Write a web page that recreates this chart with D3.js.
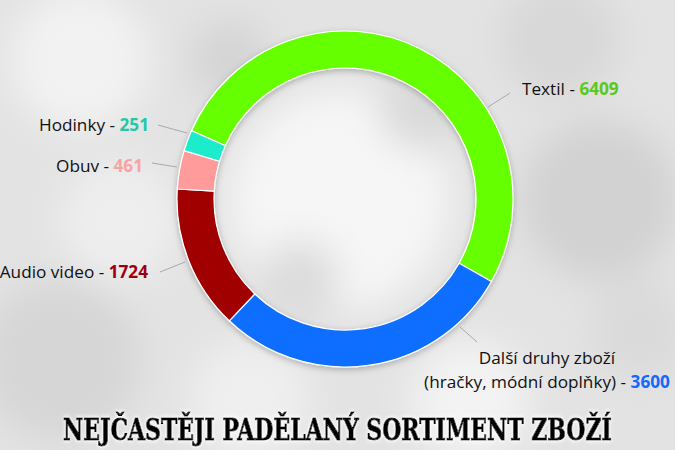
<!DOCTYPE html>
<html>
<head>
<meta charset="utf-8">
<script src="https://cdn.jsdelivr.net/npm/d3@7"></script>
<style>
  body { margin: 0; background: #e4e4e4; }
  svg { display: block; }
  .lbl { font-family: "Open Sans", sans-serif; font-size: 17.2px; fill: #111; }
  .num { font-weight: 700; }
</style>
</head>
<body>
<svg id="chart" width="675" height="450"></svg>
<script>
// data
var categories = ["Textil", "Další druhy zboží", "Audio video", "Obuv", "Hodinky"];
var values = [6409, 3600, 1724, 461, 251];
var sliceColors = ["#66ff00", "#0a6eff", "#a10000", "#ff9b9b", "#1beccb"];
var numColors = ["#58c91e", "#1469ff", "#9c0010", "#f7a3a3", "#22c9a6"];
var title = "NEJČASTĚJI PADĚLANÝ SORTIMENT ZBOŽÍ";

// where each label sits, and its leader line
var labelPos = [
  { x: 522, y: 95, anchor: "start", lx: 510, ly: 93, ix: 488, iy: 107 },
  { x: 547, y: 364, anchor: "middle", lx: 477, ly: 342, ix: 460, iy: 327 },
  { x: 148, y: 278, anchor: "end", lx: 160, ly: 272, ix: 185, iy: 262 },
  { x: 143, y: 172, anchor: "end", lx: 152, ly: 163, ix: 177, iy: 167 },
  { x: 149, y: 131, anchor: "end", lx: 158, ly: 125, ix: 187, iy: 133 }
];

var width = 675, height = 450;
var cx = 345, cy = 199, outerR = 168, innerR = 131;

var svg = d3.select("#chart");
var defs = svg.append("defs");

defs.append("filter").attr("id", "blur")
    .attr("x", "-50%").attr("y", "-50%").attr("width", "200%").attr("height", "200%")
  .append("feGaussianBlur").attr("stdDeviation", 18);

var sh = defs.append("filter").attr("id", "shadow")
    .attr("x", "-20%").attr("y", "-20%").attr("width", "140%").attr("height", "140%");
sh.append("feDropShadow").attr("dx", 0).attr("dy", 2).attr("stdDeviation", 3)
    .attr("flood-color", "#000").attr("flood-opacity", 0.25);

var glow = defs.append("filter").attr("id", "glow")
    .attr("x", "-10%").attr("y", "-50%").attr("width", "120%").attr("height", "200%");
glow.append("feGaussianBlur").attr("in", "SourceAlpha").attr("stdDeviation", 2).attr("result", "b");
glow.append("feFlood").attr("flood-color", "#fff");
glow.append("feComposite").attr("in2", "b").attr("operator", "in").attr("result", "w");
var gm = glow.append("feMerge");
gm.append("feMergeNode").attr("in", "w");
gm.append("feMergeNode").attr("in", "w");
gm.append("feMergeNode").attr("in", "SourceGraphic");

// blurry background
var bg = svg.append("g");
bg.append("rect").attr("width", width).attr("height", height).attr("fill", "#e3e3e3");
var blobs = bg.append("g").attr("filter", "url(#blur)");
[[80, 60, 70, "#f2f2f2"], [600, 200, 80, "#d2d2d2"], [560, 40, 60, "#d8d8d8"],
 [60, 360, 80, "#d6d6d6"], [340, 200, 110, "#f6f6f6"], [250, 400, 60, "#efefef"],
 [470, 400, 60, "#f3f3f3"], [640, 330, 50, "#dadada"], [120, 220, 60, "#eeeeee"],
 [230, 60, 40, "#d4d4d4"], [420, 110, 40, "#d9d9d9"], [300, 280, 40, "#dcdcdc"]]
  .forEach(function (b) {
    blobs.append("circle").attr("cx", b[0]).attr("cy", b[1]).attr("r", b[2]).attr("fill", b[3]);
  });

// donut
var pie = d3.pie().sort(null)
    .startAngle(-66 * Math.PI / 180)
    .endAngle(294 * Math.PI / 180);
var arc = d3.arc().innerRadius(innerR).outerRadius(outerR);

var g = svg.append("g").attr("transform", "translate(" + cx + "," + cy + ")")
    .attr("filter", "url(#shadow)");
g.selectAll("path")
  .data(pie(values))
  .enter()
  .append("path")
  .attr("d", arc)
  .attr("fill", function (d, i) { return sliceColors[i]; })
  .attr("stroke", "#fff")
  .attr("stroke-width", 1.2);

// leader lines
svg.selectAll("line.leader")
  .data(labelPos)
  .enter()
  .append("line")
  .attr("class", "leader")
  .attr("x1", function (d) { return d.ix; })
  .attr("y1", function (d) { return d.iy; })
  .attr("x2", function (d) { return d.lx; })
  .attr("y2", function (d) { return d.ly; })
  .attr("stroke", "#a9a9a9")
  .attr("stroke-width", 1);

// labels
categories.forEach(function (c, i) {
  var p = labelPos[i];
  if (i == 1) {
    svg.append("text").attr("class", "lbl")
      .attr("x", p.x).attr("y", p.y).attr("text-anchor", "middle")
      .text(c);
    var t2 = svg.append("text").attr("class", "lbl")
      .attr("x", p.x).attr("y", p.y + 24).attr("text-anchor", "middle");
    t2.append("tspan").text("(hračky, módní doplňky) - ");
    t2.append("tspan").attr("class", "num").attr("fill", numColors[i]).text(values[i]);
  } else {
    var t = svg.append("text").attr("class", "lbl")
      .attr("x", p.x).attr("y", p.y).attr("text-anchor", p.anchor);
    t.append("tspan").text(c + " - ");
    t.append("tspan").attr("class", "num").attr("fill", numColors[i]).text(values[i]);
  }
});

// title, squeezed to the width it has in the picture
var titleG = svg.append("g");
var tt = titleG.append("text")
  .attr("x", 0).attr("y", 0)
  .attr("text-anchor", "middle")
  .attr("font-family", "DejaVu Serif Condensed, DejaVu Serif, serif")
  .attr("font-weight", 700)
  .attr("font-size", 29)
  .attr("fill", "#000")
  .attr("stroke", "#000")
  .attr("stroke-width", 0.9)
  .attr("filter", "url(#glow)")
  .text(title);
var natural = tt.node().getComputedTextLength();
var sx = Math.min(1, 549 / natural);
titleG.attr("transform", "translate(337.5,440) scale(" + sx + ",1)");
</script>
</body>
</html>
